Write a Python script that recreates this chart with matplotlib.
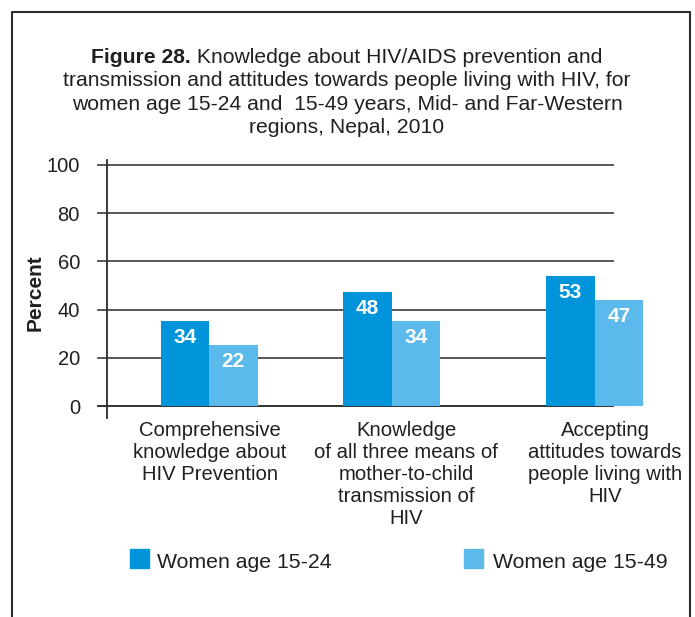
import matplotlib
matplotlib.use("Agg")
import matplotlib.pyplot as plt
from matplotlib.patches import Rectangle
from matplotlib.lines import Line2D

plt.rcParams['font.family'] = ['Liberation Sans', 'DejaVu Sans']

# ---- data ----
categories = ["Comprehensive\nknowledge about\nHIV Prevention",
              "Knowledge\nof all three means of\nmother-to-child\ntransmission of\nHIV",
              "Accepting\nattitudes towards\npeople living with\nHIV"]
series_names = ["Women age 15-24", "Women age 15-49"]
bar_heights_1524 = [35.3, 47.3, 53.9]   # heights as drawn in the picture
bar_heights_1549 = [25.3, 35.3, 44.0]
labels_1524 = ["34", "48", "53"]          # printed value labels
labels_1549 = ["22", "34", "47"]
yticks = [0, 20, 40, 60, 80, 100]

# ---- style / layout ----
W, H = 695, 617
c_dark = "#0095DA"
c_light = "#5BBAEB"
txt = "#231F20"
grid_c = "#4a4a4a"

def fx(x): return x / W
def fy(y): return 1 - y / H

fig = plt.figure(figsize=(W / 100, H / 100), dpi=100)

# frame (open at bottom)
fig.add_artist(Line2D([fx(12), fx(12), fx(690), fx(690)],
                      [fy(640), fy(12), fy(12), fy(640)],
                      color="#2b2b2b", lw=1.5, transform=fig.transFigure))

# title
fs_title = 15.2
title_lines = ["transmission and attitudes towards people living with HIV, for",
               "women age 15-24 and  15-49 years, Mid- and Far-Western",
               "regions, Nepal, 2010"]
t1b = fig.text(0, 0, "Figure 28.", fontsize=fs_title, fontweight="bold", color=txt, va="baseline")
t1r = fig.text(0, 0, " Knowledge about HIV/AIDS prevention and", fontsize=fs_title, color=txt, va="baseline")
fig.canvas.draw()
r = fig.canvas.get_renderer()
wb = t1b.get_window_extent(r).width
wr = t1r.get_window_extent(r).width
x0 = 347 - (wb + wr) / 2
t1b.set_position((fx(x0), fy(63)))
t1r.set_position((fx(x0 + wb), fy(63)))
for i, line in enumerate(title_lines):
    fig.text(fx(347), fy(63 + 23.4 * (i + 1)), line, ha="center", va="baseline",
             fontsize=fs_title, color=txt)

# axes: x in pixel-like units
ax_left, ax_right = 107, 650
ax_top, ax_bot = 160, 418
ax = fig.add_axes([fx(ax_left), fy(ax_bot), (ax_right - ax_left) / W, (ax_bot - ax_top) / H])
ax.set_xlim(ax_left, ax_right)
y0_px, y100_px = 406, 165
ppu = (y0_px - y100_px) / 100
ax.set_ylim(-(ax_bot - y0_px) / ppu, (y0_px - ax_top) / ppu)
for s in ["top", "right", "bottom"]:
    ax.spines[s].set_visible(False)
ax.spines["left"].set_color("#2b2b2b")
ax.spines["left"].set_linewidth(1.3)
ax.set_xticks([])
ax.set_yticks(yticks)
ax.set_yticklabels([str(v) for v in yticks], fontsize=14.5, color=txt)
ax.tick_params(axis="y", length=0, pad=19.5)
ax.patch.set_alpha(0)

# gridlines (extend left of axis like ticks)
for v in yticks:
    ax.plot([98, 613], [v, v], color=grid_c if v else "#222", lw=1.3,
            clip_on=False, zorder=1)

group_centers = [209, 391.5, 594.5]
bw = 48.5
for i, gc in enumerate(group_centers):
    for j, (hts, labs, col) in enumerate([(bar_heights_1524, labels_1524, c_dark),
                                          (bar_heights_1549, labels_1549, c_light)]):
        xc = gc + (j - 0.5) * bw
        ax.bar(xc, hts[i], width=bw, color=col, zorder=3, clip_on=False)
        ax.text(xc, hts[i] - 16.5 / ppu, labs[i], ha="center", va="center",
                color="white", fontsize=15, fontweight="bold", zorder=4)

ax.set_ylabel("Percent", fontsize=15, fontweight="bold", color=txt)
ax.yaxis.set_label_coords((45 - ax_left) / (ax_right - ax_left),
                          (ax_bot - 293) / (ax_bot - ax_top))

label_centers = [210, 406, 605]
for lc, cat in zip(label_centers, categories):
    fig.text(fx(lc), fy(420.5), cat, ha="center", va="top", fontsize=14.6,
             color=txt, linespacing=1.2, multialignment="center")

# legend
for (sx, tx_, name, col) in [(130, 157, series_names[0], c_dark),
                             (464, 493, series_names[1], c_light)]:
    fig.add_artist(Rectangle((fx(sx), fy(568)), 19 / W, 19 / H, color=col,
                             transform=fig.transFigure))
    fig.text(fx(tx_), fy(568), name, ha="left", va="baseline", fontsize=15.3, color=txt)

fig.savefig("out.png", dpi=100)
